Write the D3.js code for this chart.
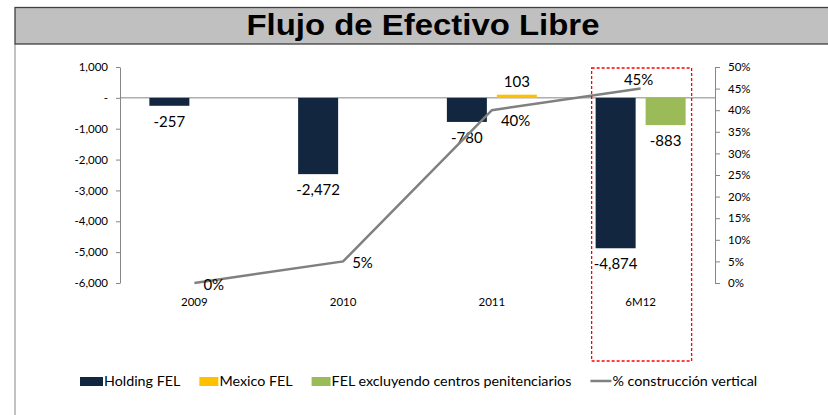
<!DOCTYPE html>
<html>
<head>
<meta charset="utf-8">
<script src="https://cdn.jsdelivr.net/npm/d3@7"></script>
<style>
  body { margin: 0; background: #fff; }
  svg { display: block; }
  text { font-family: Lato, "Open Sans", sans-serif; fill: #000; }
</style>
</head>
<body>
<svg id="canvas" width="828" height="415"></svg>
<script>
// chart data
const categories = ["2009", "2010", "2011", "6M12"];
const holdingFel = [-257, -2472, -780, -4874];
const mexicoFel = [null, null, 103, null];
const felExcluyendo = [null, null, null, -883];
const construccion = [0, 0.05, 0.40, 0.45];
const leftTicks = [1000, 0, -1000, -2000, -3000, -4000, -5000, -6000];
const rightTicks = [0, 0.05, 0.1, 0.15, 0.2, 0.25, 0.3, 0.35, 0.4, 0.45, 0.5];
const seriesNames = ["Holding FEL", "Mexico FEL", "FEL excluyendo centros penitenciarios", "% construcción vertical"];
const colors = ["#12263f", "#ffc000", "#9bbb59", "#808080"];
const lineLabelPlace = ["right", "right", "below", "above"];

let canvas = d3.select("#canvas");
// plain hyphen for negatives, like the original sheet
let loc = d3.formatLocale({ decimal: ".", thousands: ",", grouping: [3], currency: ["$", ""], minus: "-" });
let fmtNum = loc.format(",");
let fmtPct = loc.format(".0%");

// title band
canvas.append("line").attr("x1", 15).attr("x2", 15).attr("y1", 44).attr("y2", 415)
  .attr("stroke", "#999").attr("stroke-width", 1.2);
canvas.append("rect").attr("x", 15).attr("y", 7.5).attr("width", 830).attr("height", 36.5)
  .attr("fill", "#c0c0c0").attr("stroke", "#404040").attr("stroke-width", 1.3);
canvas.append("text").attr("x", 423).attr("y", 35).attr("text-anchor", "middle")
  .style("font-family", "'Liberation Sans', Arial, sans-serif")
  .style("font-weight", "bold").style("font-size", "29px")
  .attr("textLength", 353).attr("lengthAdjust", "spacingAndGlyphs")
  .text("Flujo de Efectivo Libre");

let x = d3.scaleBand().domain(categories).range([120, 715]);
let slot = d3.scaleBand().domain([0, 1]).range([0, x.bandwidth()])
  .paddingInner(0.2).paddingOuter(0.5875);
let yLeft = d3.scaleLinear().domain([-6000, 1000]).range([283, 67]);
let yRight = d3.scaleLinear().domain([0, 0.5]).range([283, 67]);

// axes
let leftAxis = d3.axisLeft(yLeft).tickValues(leftTicks).tickSize(4).tickSizeOuter(0).tickPadding(8)
  .tickFormat((d) => d === 0 ? "-" : fmtNum(d));
let gl = canvas.append("g").attr("transform", "translate(120,0)").call(leftAxis);

let rightAxis = d3.axisRight(yRight).tickValues(rightTicks).tickSize(5).tickSizeOuter(0).tickPadding(8)
  .tickFormat(fmtPct);
let gr = canvas.append("g").attr("transform", "translate(715,0)").call(rightAxis);

[gl, gr].forEach((g) => {
  g.selectAll("path, line").attr("stroke", "#868686");
  g.selectAll("text").style("font-size", "11.5px").style("font-family", "Lato, sans-serif");
});

canvas.append("line").attr("x1", 120).attr("x2", 715)
  .attr("y1", yLeft(0)).attr("y2", yLeft(0)).attr("stroke", "#868686").attr("stroke-width", 1);

// category labels
canvas.selectAll(".cat").data(categories).enter().append("text")
  .attr("class", "cat")
  .attr("x", (d) => x(d) + x.bandwidth() / 2)
  .attr("y", 306)
  .attr("text-anchor", "middle")
  .style("font-size", "11.5px")
  .text((d) => d);

// bars
let bars = [];
categories.forEach((c, i) => {
  bars.push({ cat: c, slot: 0, value: holdingFel[i], color: colors[0] });
  if (mexicoFel[i] !== null) bars.push({ cat: c, slot: 1, value: mexicoFel[i], color: colors[1] });
  if (felExcluyendo[i] !== null) bars.push({ cat: c, slot: 1, value: felExcluyendo[i], color: colors[2] });
});

canvas.selectAll(".bar").data(bars).enter().append("rect")
  .attr("class", "bar")
  .attr("x", (d) => x(d.cat) + slot(d.slot))
  .attr("width", slot.bandwidth())
  .attr("y", (d) => Math.min(yLeft(0), yLeft(d.value)))
  .attr("height", (d) => Math.abs(yLeft(d.value) - yLeft(0)))
  .attr("fill", (d) => d.color);

canvas.selectAll(".barlabel").data(bars).enter().append("text")
  .attr("class", "barlabel")
  .attr("x", (d) => x(d.cat) + slot(d.slot) + slot.bandwidth() / 2)
  .attr("y", (d) => d.value < 0 ? yLeft(d.value) + 21 : yLeft(d.value) - 8)
  .attr("text-anchor", "middle")
  .style("font-size", "15px")
  .text((d) => fmtNum(d.value));

// line
let pts = categories.map((c, i) => ({ cat: c, v: construccion[i], place: lineLabelPlace[i] }));
canvas.append("path").datum(pts)
  .attr("d", d3.line().x((d) => x(d.cat) + x.bandwidth() / 2).y((d) => yRight(d.v)))
  .attr("fill", "none").attr("stroke", colors[3]).attr("stroke-width", 2.5);

canvas.selectAll(".linelabel").data(pts).enter().append("text")
  .attr("class", "linelabel")
  .attr("x", (d) => {
    let cx = x(d.cat) + x.bandwidth() / 2;
    return d.place === "above" ? cx - 2 : cx + 9;
  })
  .attr("y", (d) => {
    let cy = yRight(d.v);
    if (d.place === "above") return cy - 4;
    if (d.place === "below") return cy + 16;
    return cy + 7;
  })
  .attr("text-anchor", (d) => d.place === "above" ? "middle" : "start")
  .style("font-size", "15px")
  .text((d) => fmtPct(d.v));

// highlight box around last period
let lastC = x(categories[3]) + x.bandwidth() / 2;
canvas.append("rect")
  .attr("x", lastC - 49).attr("y", 68).attr("width", 100).attr("height", 293)
  .attr("fill", "none").attr("stroke", "#ff0000").attr("stroke-width", 1.3)
  .attr("stroke-dasharray", "3,2");

// legend
let legend = canvas.append("g").attr("transform", "translate(80,381)");
let lx = 0;
seriesNames.forEach((name, i) => {
  let sw = i === 0 ? 23 : (i === 3 ? 21 : 19);
  if (i < 3) {
    legend.append("rect").attr("x", lx).attr("y", -4).attr("width", sw).attr("height", 9)
      .attr("fill", colors[i]);
  } else {
    legend.append("line").attr("x1", lx).attr("x2", lx + sw).attr("y1", 0).attr("y2", 0)
      .attr("stroke", colors[i]).attr("stroke-width", 2.5);
  }
  let t = legend.append("text").attr("x", lx + sw + 1).attr("y", 5)
    .style("font-size", "14.3px").text(name);
  lx += sw + 1 + t.node().getComputedTextLength() + 19;
});
</script>
</body>
</html>
